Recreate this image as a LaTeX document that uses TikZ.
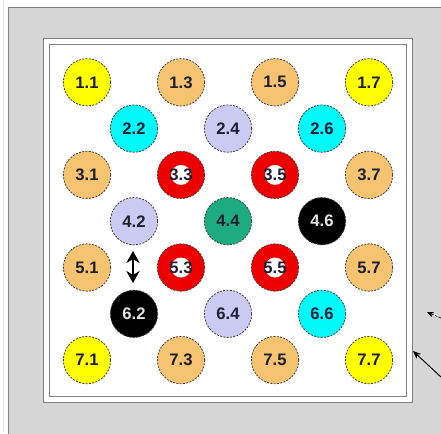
\documentclass[tikz,border=0pt]{standalone}
\usepackage{fontspec}
\setmainfont{Liberation Sans}
\usetikzlibrary{arrows.meta}

\definecolor{pinyel}{RGB}{255,255,0}
\definecolor{pinorg}{RGB}{246,196,112}
\definecolor{pincyn}{RGB}{0,250,250}
\definecolor{pinlav}{RGB}{202,202,242}
\definecolor{pinred}{RGB}{236,0,0}
\definecolor{pingrn}{RGB}{28,172,128}
\definecolor{pintxt}{RGB}{30,30,50}
\definecolor{panelgray}{RGB}{214,214,214}

\begin{document}
\begin{tikzpicture}[x=0.75pt,y=-0.75pt,
  pin/.style={circle,draw=black!75,dash pattern=on 1.5pt off 1pt,line width=0.6pt,
    minimum size=35.5pt,inner sep=0pt,text=pintxt,font=\bfseries\fontsize{12.5}{12.5}\selectfont},
  yel/.style={fill=pinyel},
  org/.style={fill=pinorg},
  cyn/.style={fill=pincyn},
  lav/.style={fill=pinlav},
  grn/.style={fill=pingrn},
  blk/.style={fill=black,text=white!90!black},
  rd/.style={fill=pinred,path picture={\fill[white] (path picture bounding box.center) circle[radius=7.5pt];}}]
\useasboundingbox (0,0) rectangle (441,433);
\fill[white] (0,0) rectangle (441,433);
\draw[blue!12] (3,0) -- (3,433);
% panel and frame
\draw[gray,fill=panelgray] (8,7) rectangle (446,440);
\draw[gray,fill=white] (43,38) rectangle (412,402);
\draw[gray] (49,44) rectangle (406,396);
% pins
\foreach \r/\c/\s in {1/1/yel,1/3/org,1/5/org,1/7/yel,
  2/2/cyn,2/4/lav,2/6/cyn,
  3/1/org,3/3/rd,3/5/rd,3/7/org,
  4/2/lav,4/4/grn,4/6/blk,
  5/1/org,5/3/rd,5/5/rd,5/7/org,
  6/2/blk,6/4/lav,6/6/cyn,
  7/1/yel,7/3/org,7/5/org,7/7/yel}
  \node[pin,\s] (p\r\c) at ({40+47*\c},{36+46.3*\r}) {\r.\c};
% swap arrow
\coordinate (s1) at (133,251);
\coordinate (s2) at (133,283);
\draw[{Stealth[length=9pt,width=10pt]}-{Stealth[length=9pt,width=10pt]},line width=2pt] (s1) -- (s2);
% pointers
\coordinate (a1) at (441,318);
\coordinate (b1) at (427,312);
\coordinate (a2) at (441,377);
\coordinate (b2) at (413,351);
\draw[-{Stealth[length=5pt,width=4pt]},dash pattern=on 2pt off 1pt,line width=0.5pt] (a1) -- (b1);
\draw[-{Stealth[length=6pt,width=5pt]},line width=0.7pt] (a2) -- (b2);
\end{tikzpicture}
\end{document}
